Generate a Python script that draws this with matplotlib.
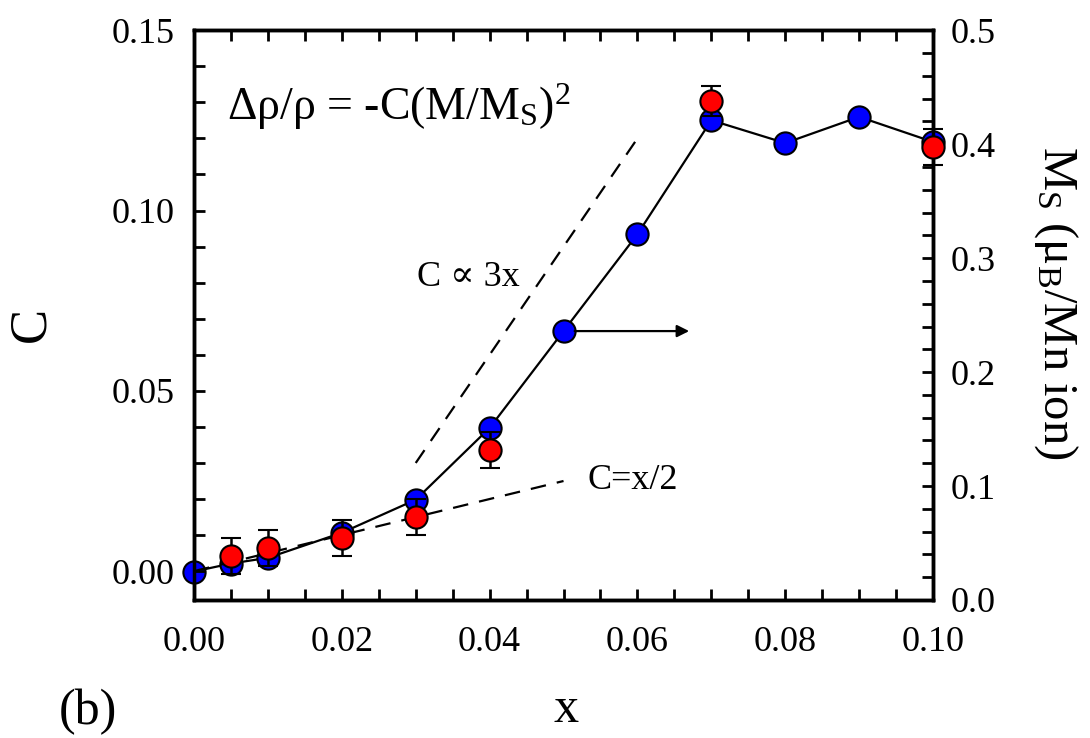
import matplotlib
matplotlib.use("Agg")
import matplotlib.pyplot as plt
from matplotlib.ticker import MultipleLocator, FormatStrFormatter

plt.rcParams['font.family'] = ['Liberation Serif', 'DejaVu Serif']
plt.rcParams['mathtext.fontset'] = 'custom'
plt.rcParams['mathtext.rm'] = 'Liberation Serif'
plt.rcParams['mathtext.it'] = 'Liberation Serif:italic'

# Ms data (right axis, blue)
x_ms = [0.0, 0.005, 0.01, 0.02, 0.03, 0.04, 0.05, 0.06, 0.07, 0.08, 0.09, 0.10]
ms = [0.025, 0.032, 0.037, 0.059, 0.088, 0.151, 0.236, 0.321, 0.421, 0.401, 0.424, 0.402]

# C data (left axis, red) with error bars
x_c = [0.005, 0.01, 0.02, 0.03, 0.04, 0.07, 0.10]
c_vals = [0.0043, 0.0065, 0.0093, 0.0151, 0.0335, 0.1304, 0.1176]
c_err = [0.005, 0.005, 0.005, 0.005, 0.005, 0.0042, 0.0049]

# guide lines
x_3x = [0.030, 0.060]
c_3x = [0.030, 0.120]
x_half = [0.0, 0.050]
c_half = [0.0, 0.025]

fig = plt.figure(figsize=(10.9, 7.38), dpi=100)
ax = fig.add_axes([0.178, 0.187, 0.678, 0.772])
ax2 = ax.twinx()
ax.set_zorder(ax2.get_zorder() + 1)
ax.patch.set_visible(False)

ax2.plot(x_ms, ms, '-', color='black', lw=1.6, zorder=2)
ax2.plot(x_ms, ms, 'o', ms=16, mfc='#0000ff', mec='black', mew=1.5, zorder=3,
         clip_on=False)

ax.plot(x_3x, c_3x, '--', color='black', lw=1.6, dashes=(7, 5))
ax.plot(x_half, c_half, '--', color='black', lw=1.6, dashes=(7, 5))
ax.errorbar(x_c, c_vals, yerr=c_err, fmt='o', ms=16, mfc='#ff0000', mec='black',
            mew=1.5, ecolor='black', elinewidth=1.8, capsize=7, capthick=1.8,
            clip_on=False, zorder=4)

ax.set_xlim(0, 0.10)
ax.set_ylim(-0.008, 0.15)
ax2.set_ylim(0, 0.5)

fs = 26
ax.xaxis.set_major_locator(MultipleLocator(0.02))
ax.xaxis.set_minor_locator(MultipleLocator(0.005))
ax.xaxis.set_major_formatter(FormatStrFormatter('%.2f'))
ax.yaxis.set_major_locator(MultipleLocator(0.05))
ax.yaxis.set_minor_locator(MultipleLocator(0.01))
ax.yaxis.set_major_formatter(FormatStrFormatter('%.2f'))
ax2.yaxis.set_major_locator(MultipleLocator(0.1))
ax2.yaxis.set_minor_locator(MultipleLocator(0.02))
ax2.yaxis.set_major_formatter(FormatStrFormatter('%.1f'))

ax.tick_params(axis='x', which='both', direction='in', top=True, labelsize=fs, pad=19)
ax.tick_params(axis='y', which='both', direction='in', right=False, labelsize=fs, pad=14)
ax.tick_params(which='both', length=8, width=2)
ax2.tick_params(axis='y', which='both', direction='in', labelsize=fs, pad=13, length=8, width=2)

for a in (ax, ax2):
    for s in a.spines.values():
        s.set_linewidth(2.5)

# axis titles
fig.text(31 / 1090, 1 - 324 / 738, 'C', fontsize=38, rotation=90, ha='center', va='center')
fig.text(566 / 1090, 1 - 710 / 738, 'x', fontsize=36, ha='center', va='center')
fig.text(1056 / 1090, 1 - 303 / 738, r'M$_\mathrm{S}$ ($\mathrm{\mu}_\mathrm{B}$/Mn ion)',
         fontsize=35, rotation=-90, ha='center', va='center')

ax.text(0.045, 0.842, r'Δρ/ρ = -C(M/M$_\mathrm{S}$)$^2$', transform=ax.transAxes,
        fontsize=33, ha='left', va='baseline')
ax.text(0.302, 0.551, 'C ∝ 3x', transform=ax.transAxes, fontsize=26, ha='left',
        va='baseline')
ax.text(0.533, 0.195, 'C=x/2', transform=ax.transAxes, fontsize=26, ha='left',
        va='baseline')

ax2.annotate('', xy=(0.067, 0.236), xytext=(0.0515, 0.236),
             arrowprops=dict(arrowstyle='-|>', color='black', lw=1.6,
                             mutation_scale=18, shrinkA=0, shrinkB=0))

fig.text(88 / 1090, 1 - 712 / 738, '(b)', fontsize=36, ha='center', va='center')

fig.savefig('out.png', dpi=100)
